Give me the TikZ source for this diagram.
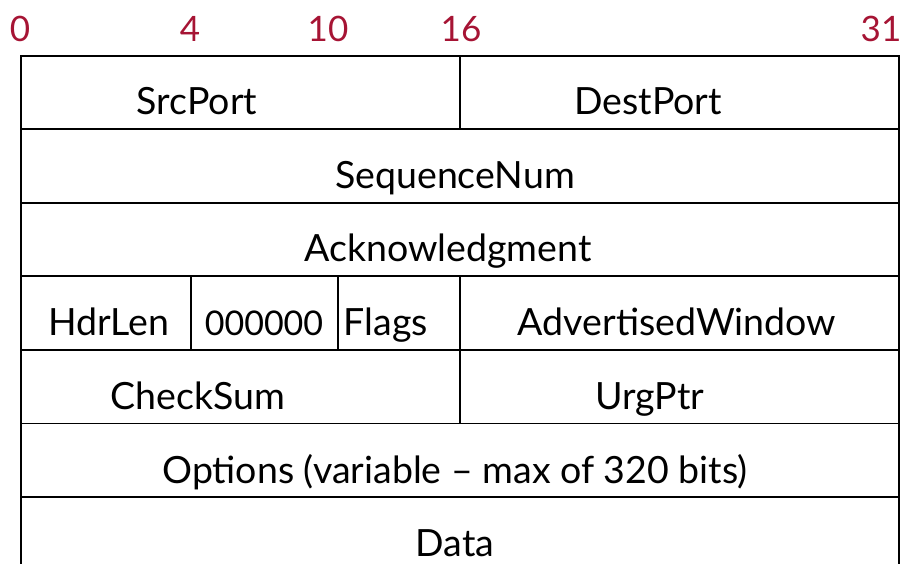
\documentclass[tikz,border=0pt]{standalone}
\usepackage{fontspec}
\setmainfont{Lato}
\definecolor{bitred}{RGB}{166,20,52}
\begin{document}
\begin{tikzpicture}[x=1pt,y=-1pt,
  cell/.style={draw=black, line width=1.8pt, inner sep=0pt, anchor=north west},
  lbl/.style={anchor=base, font=\fontsize{37.5}{37.5}\selectfont, inner sep=0pt},
  bit/.style={anchor=base, font=\fontsize{35}{35}\selectfont, text=bitred, inner sep=0pt}]
\useasboundingbox (0,0) rectangle (903,564);
% bit numbers
\node[bit] (b0)  at (20,42) {0};
\node[bit] (b4)  at (190,42) {4};
\node[bit] (b10) at (328,42) {10};
\node[bit] (b16) at (461,42) {16};
\node[bit] (b31) at (881,42) {31};
% cells
\node[cell, minimum width=439pt, minimum height=73.5pt] (src)  at (20,55) {};
\node[cell, minimum width=439pt, minimum height=73.5pt] (dst)  at (459,55) {};
\node[cell, minimum width=878pt, minimum height=73.5pt] (seq)  at (20,128.5) {};
\node[cell, minimum width=878pt, minimum height=73.5pt] (ack)  at (20,202) {};
\node[cell, minimum width=170pt, minimum height=73.5pt] (hdr)  at (20,275.5) {};
\node[cell, minimum width=147pt, minimum height=73.5pt] (zero) at (190,275.5) {};
\node[cell, minimum width=122pt, minimum height=73.5pt] (flg)  at (337,275.5) {};
\node[cell, minimum width=439pt, minimum height=73.5pt] (adv)  at (459,275.5) {};
\node[cell, minimum width=439pt, minimum height=73.5pt] (chk)  at (20,349) {};
\node[cell, minimum width=439pt, minimum height=73.5pt] (urg)  at (459,349) {};
\node[cell, minimum width=878pt, minimum height=73.5pt] (opt)  at (20,422.5) {};
\node[cell, minimum width=878pt, minimum height=80pt]   (dat)  at (20,496) {};
% labels
\node[lbl] (tsrc) at (197,115) {SrcPort};
\node[lbl] (tdst) at (648,115) {DestPort};
\node[lbl] (tseq) at (455,189) {SequenceNum};
\node[lbl] (tack) at (448,262) {Acknowledgment};
\node[lbl] (thdr) at (109,336) {HdrLen};
\node[lbl, font=\fontsize{34}{34}\selectfont] (tzer) at (264,336) {000000};
\node[lbl] (tflg) at (386,336) {Flags};
\node[lbl] (tadv) at (677,336) {AdvertisedWindow};
\node[lbl] (tchk) at (198,409) {CheckSum};
\node[lbl] (turg) at (650,409) {UrgPtr};
\node[lbl] (topt) at (455,483) {Options (variable – max of 320 bits)};
\node[lbl] (tdat) at (455,556) {Data};
\end{tikzpicture}
\end{document}
